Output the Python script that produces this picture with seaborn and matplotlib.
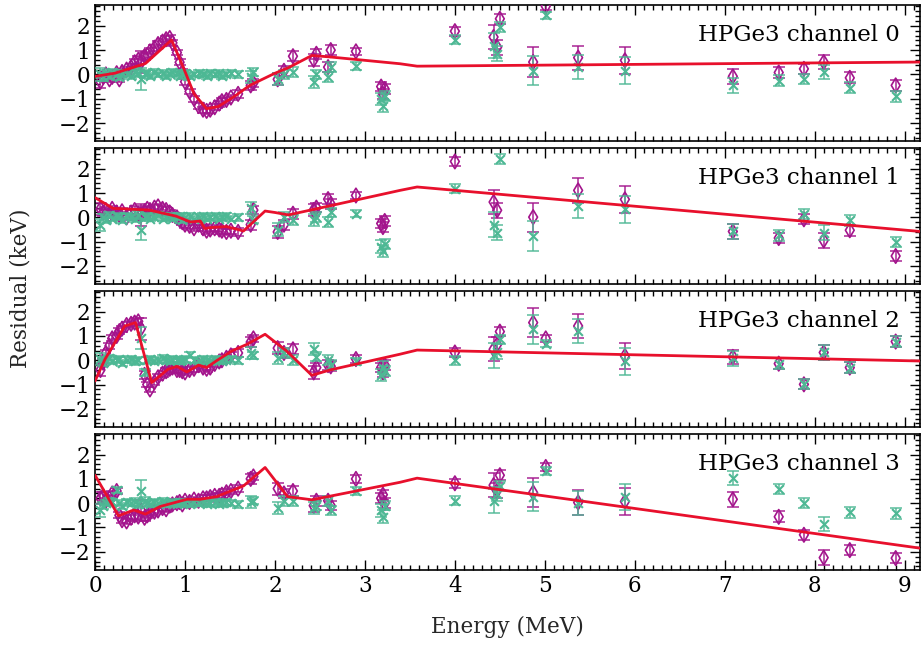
import numpy as np
import pandas as pd
import matplotlib
matplotlib.use("Agg")
import matplotlib.pyplot as plt
import seaborn as sns
from matplotlib.ticker import MultipleLocator

# ---------------- data ----------------
energy = [0.06, 0.09, 0.12, 0.16, 0.19, 0.24, 0.27, 0.30, 0.35, 0.40,
          0.44, 0.48, 0.51, 0.55, 0.58, 0.61, 0.66, 0.70, 0.75, 0.79,
          0.83, 0.86, 0.91, 0.94, 0.97, 1.00, 1.05, 1.10, 1.15, 1.20,
          1.24, 1.28, 1.33, 1.38, 1.41, 1.46, 1.51, 1.59, 1.73, 1.76,
          2.03, 2.10, 2.20, 2.43, 2.46, 2.59, 2.62, 2.90, 3.18, 3.20,
          3.22, 4.00, 4.43, 4.47, 4.50, 4.87, 5.01, 5.37, 5.89, 7.09,
          7.60, 7.88, 8.10, 8.39, 8.90]

err_mag = [0.25, 0.15, 0.12, 0.12, 0.12, 0.12, 0.12, 0.12, 0.12, 0.12,
           0.15, 0.15, 0.45, 0.15, 0.12, 0.12, 0.12, 0.12, 0.12, 0.12,
           0.12, 0.12, 0.12, 0.12, 0.12, 0.12, 0.12, 0.12, 0.12, 0.12,
           0.12, 0.12, 0.12, 0.12, 0.12, 0.12, 0.12, 0.15, 0.20, 0.15,
           0.25, 0.20, 0.20, 0.25, 0.20, 0.20, 0.20, 0.15, 0.20, 0.20,
           0.20, 0.18, 0.50, 0.30, 0.20, 0.60, 0.15, 0.50, 0.55, 0.30,
           0.22, 0.20, 0.30, 0.22, 0.22]
err_grn = [0.25, 0.15, 0.12, 0.12, 0.12, 0.12, 0.12, 0.12, 0.12, 0.12,
           0.15, 0.15, 0.45, 0.15, 0.12, 0.12, 0.12, 0.12, 0.12, 0.12,
           0.12, 0.12, 0.12, 0.12, 0.12, 0.12, 0.12, 0.12, 0.12, 0.12,
           0.12, 0.12, 0.12, 0.12, 0.12, 0.12, 0.12, 0.15, 0.25, 0.15,
           0.25, 0.20, 0.20, 0.25, 0.20, 0.20, 0.20, 0.15, 0.25, 0.25,
           0.20, 0.18, 0.50, 0.30, 0.20, 0.60, 0.15, 0.50, 0.55, 0.30,
           0.22, 0.20, 0.30, 0.22, 0.22]

mag0 = [-0.3, -0.1, 0.0, -0.2, -0.1, 0.05, -0.2, 0.1, 0.2, 0.3,
        0.5, 0.6, 0.5, 0.75, 0.8, 0.95, 1.1, 1.25, 1.35, 1.45,
        1.5, 1.3, 0.9, 0.5, 0.1, -0.3, -0.7, -1.0, -1.3, -1.45,
        -1.5, -1.45, -1.35, -1.2, -1.1, -1.05, -0.95, -0.8, -0.45, -0.35,
        -0.2, 0.15, 0.75, 0.6, 0.85, 0.3, 1.0, 0.95, -0.5, -0.8,
        -0.6, 1.78, 1.54, 1.12, 2.29, 0.51, 2.8, 0.69, 0.58, -0.08,
        0.08, 0.23, 0.51, -0.14, -0.45]
grn0 = [0.0, -0.1, 0.05, -0.05, 0.1, 0.0, -0.1, 0.05, 0.0, -0.05,
        0.1, 0.05, -0.2, 0.0, 0.05, -0.05, 0.1, 0.0, 0.05, -0.05,
        0.0, 0.1, 0.05, -0.05, 0.0, 0.05, -0.05, 0.0, 0.05, 0.0,
        -0.05, 0.05, 0.0, 0.05, -0.05, 0.0, 0.05, 0.0, -0.1, 0.1,
        -0.2, 0.0, 0.1, -0.3, 0.0, -0.1, 0.3, 0.35, -1.0, -1.3,
        -0.9, 1.43, 1.19, 0.85, 1.95, 0.16, 2.43, 0.30, 0.16, -0.45,
        -0.25, -0.18, 0.1, -0.55, -0.9]

mag1 = [0.35, 0.2, 0.3, 0.1, 0.35, 0.2, 0.1, 0.25, 0.0, 0.2,
        0.3, 0.15, 0.1, 0.25, 0.35, 0.3, 0.4, 0.45, 0.35, 0.3,
        0.2, 0.1, 0.0, -0.1, -0.2, -0.3, -0.35, -0.45, -0.3, -0.45,
        -0.55, -0.5, -0.45, -0.5, -0.55, -0.6, -0.55, -0.6, -0.3, 0.3,
        -0.6, -0.3, 0.15, 0.3, 0.4, 0.75, 0.55, 0.9, -0.25, -0.4,
        -0.15, 2.30, 0.63, 0.29, 3.2, 0.01, 3.4, 1.11, 0.74, -0.58,
        -0.85, -0.08, -0.95, -0.53, -1.59]
grn1 = [-0.3, 0.0, -0.1, 0.1, -0.05, 0.05, 0.0, -0.1, 0.05, 0.0,
        -0.05, 0.1, -0.5, 0.0, 0.05, -0.05, 0.0, 0.1, -0.05, 0.0,
        0.05, -0.05, 0.0, 0.05, -0.1, 0.0, 0.05, -0.05, 0.0, 0.05,
        -0.05, 0.0, 0.05, -0.05, 0.0, 0.05, -0.05, 0.0, 0.4, -0.1,
        -0.5, 0.0, -0.1, -0.1, 0.0, -0.2, 0.2, 0.15, -1.2, -1.4,
        -1.1, 1.18, -0.30, -0.63, 2.39, -0.77, 3.1, 0.47, 0.33, -0.58,
        -0.74, 0.15, -0.63, -0.12, -1.02]

mag2 = [-0.4, -0.1, 0.3, 0.6, 0.9, 1.0, 1.2, 1.3, 1.45, 1.5,
        1.55, 1.6, 1.3, -0.6, -1.0, -1.2, -0.9, -0.7, -0.55, -0.45,
        -0.35, -0.3, -0.4, -0.4, -0.45, -0.5, -0.4, -0.35, -0.2, -0.3,
        -0.35, -0.3, -0.15, -0.05, 0.0, 0.1, 0.2, 0.3, 0.75, 0.9,
        0.5, 0.3, 0.45, -0.5, -0.3, -0.2, -0.25, 0.05, -0.3, -0.5,
        -0.2, 0.32, 0.45, 0.65, 1.18, 1.55, 0.9, 1.41, 0.18, 0.14,
        -0.14, -0.99, 0.32, -0.30, 0.77]
grn2 = [0.05, -0.1, 0.0, 0.1, -0.05, 0.0, 0.05, -0.1, 0.0, 0.05,
        -0.05, 0.0, 0.9, -0.5, 0.0, 0.05, -0.05, 0.0, 0.1, 0.0,
        -0.05, 0.05, 0.0, -0.05, 0.0, 0.05, 0.2, 0.0, -0.05, 0.05,
        0.0, -0.05, 0.05, 0.0, -0.05, 0.0, 0.05, 0.0, 0.3, 0.2,
        0.1, 0.3, 0.0, 0.45, 0.15, 0.0, -0.2, -0.05, -0.6, -0.3,
        -0.45, 0.0, 0.2, 0.35, 0.86, 1.28, 0.69, 1.21, -0.05, 0.08,
        -0.14, -0.99, 0.32, -0.30, 0.77]

mag3 = [0.2, 0.3, 0.1, 0.2, 0.4, 0.5, -0.5, -0.7, -0.75, -0.6,
        -0.5, -0.55, -0.3, -0.6, -0.5, -0.4, -0.35, -0.3, -0.2, -0.25,
        -0.1, -0.05, 0.0, 0.05, -0.05, 0.1, 0.05, 0.15, 0.1, 0.2,
        0.2, 0.25, 0.3, 0.3, 0.35, 0.45, 0.5, 0.6, 1.0, 1.1,
        0.6, 0.4, 0.5, -0.1, 0.1, 0.1, -0.1, 1.0, 0.2, 0.35,
        0.0, 0.82, 0.74, 0.53, 1.15, 0.44, 1.49, 0.03, 0.07, 0.16,
        -0.56, -1.30, -2.24, -1.93, -2.26]
grn3 = [-0.3, -0.1, 0.0, 0.1, 0.05, 0.55, 0.0, -0.1, 0.05, 0.0,
        0.05, -0.05, 0.5, 0.1, 0.0, -0.05, 0.05, 0.0, 0.1, -0.05,
        0.0, 0.05, -0.05, 0.0, 0.05, 0.0, -0.05, 0.05, 0.0, 0.05,
        -0.05, 0.0, 0.05, -0.05, 0.0, 0.05, 0.0, -0.05, 0.05, 0.1,
        -0.2, 0.1, 0.1, -0.2, -0.1, 0.1, -0.3, 0.5, -0.3, -0.55,
        -0.1, 0.10, 0.10, 0.37, 0.71, 0.26, 1.33, 0.0, 0.26, 1.03,
        0.58, 0.0, -0.86, -0.38, -0.42]

# fitted curves (red), knots
fit_e0 = [0.0, 0.22, 0.56, 0.85, 0.98, 1.10, 1.24, 1.37, 1.55, 1.72, 2.00, 2.15, 2.41, 2.61, 3.39, 3.58, 9.17]
fit_v0 = [-0.08, 0.05, 0.45, 1.42, 0.30, -0.80, -1.41, -1.32, -0.90, -0.45, 0.05, 0.28, 0.78, 0.72, 0.44, 0.34, 0.51]
fit_e1 = [0.0, 0.20, 0.60, 0.90, 1.06, 1.17, 1.22, 1.28, 1.46, 1.65, 1.89, 2.00, 2.15, 3.39, 3.58, 9.17]
fit_v1 = [0.81, 0.37, 0.30, 0.05, -0.19, -0.15, -0.46, -0.42, -0.38, -0.56, 0.26, 0.20, 0.10, 1.11, 1.25, -0.58]
fit_e2 = [0.0, 0.11, 0.33, 0.45, 0.63, 0.81, 0.91, 1.02, 1.15, 1.24, 1.35, 1.52, 1.69, 1.89, 2.13, 2.41, 2.61, 3.39, 3.58, 9.17]
fit_v2 = [-0.85, 0.04, 1.41, 1.55, -0.92, -0.37, -0.25, -0.48, -0.20, -0.30, -0.02, 0.38, 0.66, 1.07, 0.38, -0.62, -0.40, 0.25, 0.42, -0.03]
fit_e3 = [0.0, 0.26, 0.43, 0.56, 0.72, 1.02, 1.17, 1.35, 1.65, 1.89, 2.09, 2.14, 2.41, 3.39, 3.58, 9.17]
fit_v3 = [1.15, -0.52, -0.28, -0.45, -0.14, 0.16, 0.16, 0.27, 0.71, 1.47, 0.51, 0.27, 0.14, 0.86, 1.03, -1.85]

panels = [(mag0, grn0, fit_e0, fit_v0),
          (mag1, grn1, fit_e1, fit_v1),
          (mag2, grn2, fit_e2, fit_v2),
          (mag3, grn3, fit_e3, fit_v3)]
titles = ["HPGe3 channel 0", "HPGe3 channel 1", "HPGe3 channel 2", "HPGe3 channel 3"]

MAG = "#A3148C"
GRN = "#4DB894"
RED = "#E8102C"

# ---------------- plot ----------------
sns.set_theme(style="ticks")
plt.rcParams['font.family'] = ['DejaVu Serif']
plt.rcParams['mathtext.fontset'] = 'dejavuserif'
plt.rcParams['axes.edgecolor'] = 'black'
plt.rcParams['xtick.color'] = 'black'
plt.rcParams['ytick.color'] = 'black'

fig, axes = plt.subplots(4, 1, figsize=(9.23, 6.46), dpi=100, sharex=True)
fig.subplots_adjust(left=0.103, right=0.9967, top=0.992, bottom=0.1176, hspace=0.05)

for ax, (mag, grn, fe, fv), title in zip(axes, panels, titles):
    df = pd.DataFrame({"E": energy, "mag": mag, "grn": grn,
                       "emag": err_mag, "egrn": err_grn})
    fit = pd.DataFrame({"E": fe, "v": fv})
    ax.errorbar(df["E"], df["mag"], yerr=df["emag"], fmt="none", ecolor=MAG,
                elinewidth=1.2, capsize=4, capthick=1.2, alpha=0.85, zorder=2)
    sns.scatterplot(data=df, x="E", y="mag", ax=ax, marker="d", s=55,
                    facecolor="none", edgecolor=MAG, linewidth=1.2, zorder=3)
    ax.errorbar(df["E"], df["grn"], yerr=df["egrn"], fmt="none", ecolor=GRN,
                elinewidth=1.2, capsize=4, capthick=1.2, alpha=0.85, zorder=4)
    sns.scatterplot(data=df, x="E", y="grn", ax=ax, marker="x", s=40,
                    color=GRN, linewidth=1.5, zorder=5)
    sns.lineplot(data=fit, x="E", y="v", ax=ax, color=RED, linewidth=2.0,
                 estimator=None, sort=False, zorder=6)
    ax.set_xlim(0, 9.17)
    ax.set_ylim(-2.75, 2.85)
    ax.xaxis.set_major_locator(MultipleLocator(1))
    ax.xaxis.set_minor_locator(MultipleLocator(0.1))
    ax.yaxis.set_major_locator(MultipleLocator(1))
    ax.yaxis.set_minor_locator(MultipleLocator(0.2))
    ax.tick_params(which="both", direction="in", top=True, right=True,
                   labelsize=15.5, width=1.0)
    ax.tick_params(which="major", length=7)
    ax.tick_params(which="minor", length=3.5)
    for sp in ax.spines.values():
        sp.set_linewidth(1.2)
    ax.set_xlabel("")
    ax.set_ylabel("")
    ax.text(0.976, 0.78, title, transform=ax.transAxes, ha="right", va="center",
            fontsize=16.5, color="black")

axes[-1].set_xlabel("Energy (MeV)", fontsize=15.5, labelpad=14)
fig.text(0.022, 0.554, "Residual (keV)", rotation=90, ha="center", va="center",
         fontsize=15.5)

fig.savefig("out.png", dpi=100)
